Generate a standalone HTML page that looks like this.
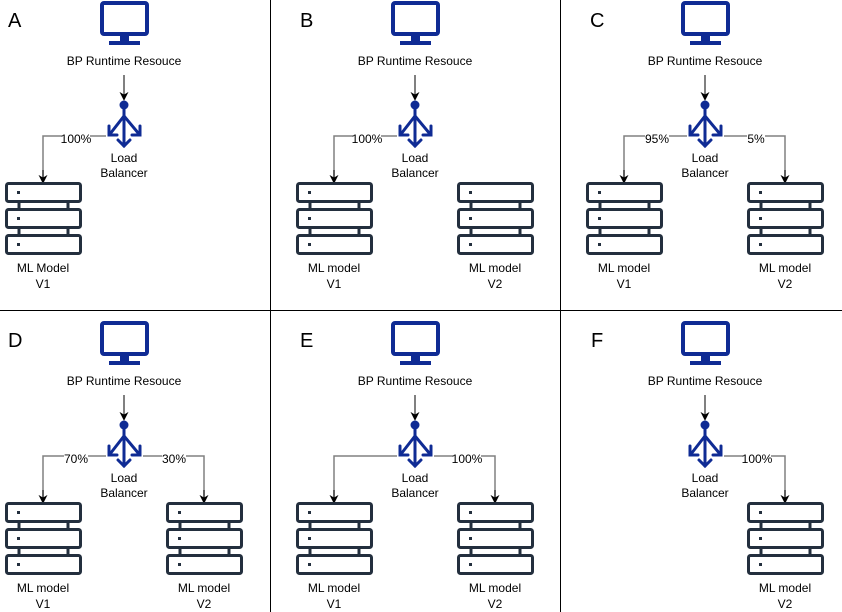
<!DOCTYPE html>
<html><head><meta charset="utf-8"><style>
html,body{margin:0;padding:0;background:#fff}
svg{display:block}
text{font-family:"Liberation Sans",sans-serif;font-size:12px;fill:#000}
.big{font-size:20px}
</style></head><body>
<svg width="842" height="612" viewBox="0 0 842 612" xmlns="http://www.w3.org/2000/svg">
<defs>
<marker id="ah" viewBox="0 0 10 10" refX="9" refY="5" markerWidth="9" markerHeight="9" orient="auto"><path d="M0,0 L10,5 L0,10 L3,5 z" fill="#000"/></marker>
<g id="mon">
<rect x="102" y="3" width="45" height="31" rx="2" fill="none" stroke="#0f2b94" stroke-width="4"/>
<rect x="120" y="35" width="9" height="7" fill="#0f2b94"/>
<rect x="109" y="41" width="31" height="4" fill="#0f2b94"/>
<line x1="124" y1="75" x2="124" y2="100" stroke="#000" stroke-width="1" marker-end="url(#ah)"/>
<circle cx="124" cy="105" r="4.5" fill="#0f2b94"/>
<g stroke="#0f2b94" stroke-width="3" fill="none" stroke-linecap="round">
<line x1="124" y1="108" x2="124" y2="146"/>
<polyline points="118,140 124,146 130,140"/>
<line x1="124" y1="116" x2="110" y2="134"/>
<polyline points="109,126 109,135 117,135"/>
<line x1="124" y1="116" x2="139" y2="134"/>
<polyline points="140,126 140,135 132,135"/>
</g>
</g>
<g id="srv" fill="none" stroke="#232f3e" stroke-width="3">
<rect x="6.5" y="183.5" width="74" height="18" rx="2"/>
<rect x="6.5" y="209.5" width="74" height="18" rx="2"/>
<rect x="6.5" y="235.5" width="74" height="18" rx="2"/>
<line x1="19" y1="202" x2="19" y2="209"/><line x1="68" y1="202" x2="68" y2="209"/>
<line x1="19" y1="228" x2="19" y2="235"/><line x1="68" y1="228" x2="68" y2="235"/>
<rect x="17" y="191" width="3" height="3" fill="#232f3e" stroke="none"/>
<rect x="17" y="217" width="3" height="3" fill="#232f3e" stroke="none"/>
<rect x="17" y="243" width="3" height="3" fill="#232f3e" stroke="none"/>
</g>
<path id="cl" d="M106,136 H43 V181" fill="none" stroke="#808080" stroke-width="1.5"/>
<path id="cr" d="M143,136 H204 V181" fill="none" stroke="#808080" stroke-width="1.5"/>
</defs>
<line x1="270.5" y1="0" x2="270.5" y2="612" stroke="#000"/>
<line x1="560.5" y1="0" x2="560.5" y2="612" stroke="#000"/>
<line x1="0" y1="310.5" x2="842" y2="310.5" stroke="#000"/>

<g>
<text class="big" x="8" y="27">A</text>
<use href="#mon"/>
<text x="124" y="65" text-anchor="middle">BP Runtime Resouce</text>
<use href="#cl"/><path d="M43,170 V183" stroke="#000" marker-end="url(#ah)"/>
<rect x="62" y="133" width="28" height="12" fill="#fff"/><text x="76" y="143" text-anchor="middle" font-size="11">100%</text>
<text x="124" y="162" text-anchor="middle">Load</text><text x="124" y="177" text-anchor="middle">Balancer</text>
<use href="#srv"/>
<text x="43" y="272" text-anchor="middle">ML Model</text><text x="43" y="288" text-anchor="middle">V1</text>
</g>
<g transform="translate(291,0)">
<text class="big" x="9" y="27">B</text>
<use href="#mon"/>
<text x="124" y="65" text-anchor="middle">BP Runtime Resouce</text>
<use href="#cl"/><path d="M43,170 V183" stroke="#000" marker-end="url(#ah)"/>
<rect x="62" y="133" width="28" height="12" fill="#fff"/><text x="76" y="143" text-anchor="middle" font-size="11">100%</text>
<text x="124" y="162" text-anchor="middle">Load</text><text x="124" y="177" text-anchor="middle">Balancer</text>
<use href="#srv"/><use href="#srv" x="161"/>
<text x="43" y="272" text-anchor="middle">ML model</text><text x="43" y="288" text-anchor="middle">V1</text>
<text x="204" y="272" text-anchor="middle">ML model</text><text x="204" y="288" text-anchor="middle">V2</text>
</g>
<g transform="translate(581,0)">
<text class="big" x="9" y="27">C</text>
<use href="#mon"/>
<text x="124" y="65" text-anchor="middle">BP Runtime Resouce</text>
<use href="#cl"/><path d="M43,170 V183" stroke="#000" marker-end="url(#ah)"/>
<use href="#cr"/><path d="M204,170 V183" stroke="#000" marker-end="url(#ah)"/>
<rect x="64" y="133" width="24" height="12" fill="#fff"/><text x="76" y="143" text-anchor="middle" font-size="11">95%</text>
<rect x="166" y="133" width="18" height="12" fill="#fff"/><text x="175" y="143" text-anchor="middle" font-size="11">5%</text>
<text x="124" y="162" text-anchor="middle">Load</text><text x="124" y="177" text-anchor="middle">Balancer</text>
<use href="#srv"/><use href="#srv" x="161"/>
<text x="43" y="272" text-anchor="middle">ML model</text><text x="43" y="288" text-anchor="middle">V1</text>
<text x="204" y="272" text-anchor="middle">ML model</text><text x="204" y="288" text-anchor="middle">V2</text>
</g>
<g transform="translate(0,320)">
<text class="big" x="8" y="27">D</text>
<use href="#mon"/>
<text x="124" y="65" text-anchor="middle">BP Runtime Resouce</text>
<use href="#cl"/><path d="M43,170 V183" stroke="#000" marker-end="url(#ah)"/>
<use href="#cr"/><path d="M204,170 V183" stroke="#000" marker-end="url(#ah)"/>
<rect x="64" y="133" width="24" height="12" fill="#fff"/><text x="76" y="143" text-anchor="middle" font-size="11">70%</text>
<rect x="162" y="133" width="24" height="12" fill="#fff"/><text x="174" y="143" text-anchor="middle" font-size="11">30%</text>
<text x="124" y="162" text-anchor="middle">Load</text><text x="124" y="177" text-anchor="middle">Balancer</text>
<use href="#srv"/><use href="#srv" x="161"/>
<text x="43" y="272" text-anchor="middle">ML model</text><text x="43" y="288" text-anchor="middle">V1</text>
<text x="204" y="272" text-anchor="middle">ML model</text><text x="204" y="288" text-anchor="middle">V2</text>
</g>
<g transform="translate(291,320)">
<text class="big" x="9" y="27">E</text>
<use href="#mon"/>
<text x="124" y="65" text-anchor="middle">BP Runtime Resouce</text>
<use href="#cl"/><path d="M43,170 V183" stroke="#000" marker-end="url(#ah)"/>
<use href="#cr"/><path d="M204,170 V183" stroke="#000" marker-end="url(#ah)"/>
<rect x="162" y="133" width="28" height="12" fill="#fff"/><text x="176" y="143" text-anchor="middle" font-size="11">100%</text>
<text x="124" y="162" text-anchor="middle">Load</text><text x="124" y="177" text-anchor="middle">Balancer</text>
<use href="#srv"/><use href="#srv" x="161"/>
<text x="43" y="272" text-anchor="middle">ML model</text><text x="43" y="288" text-anchor="middle">V1</text>
<text x="204" y="272" text-anchor="middle">ML model</text><text x="204" y="288" text-anchor="middle">V2</text>
</g>
<g transform="translate(581,320)">
<text class="big" x="10" y="27">F</text>
<use href="#mon"/>
<text x="124" y="65" text-anchor="middle">BP Runtime Resouce</text>
<use href="#cr"/><path d="M204,170 V183" stroke="#000" marker-end="url(#ah)"/>
<rect x="162" y="133" width="28" height="12" fill="#fff"/><text x="176" y="143" text-anchor="middle" font-size="11">100%</text>
<text x="124" y="162" text-anchor="middle">Load</text><text x="124" y="177" text-anchor="middle">Balancer</text>
<use href="#srv" x="161"/>
<text x="204" y="272" text-anchor="middle">ML model</text><text x="204" y="288" text-anchor="middle">V2</text>
</g>
</svg>
</body></html>
